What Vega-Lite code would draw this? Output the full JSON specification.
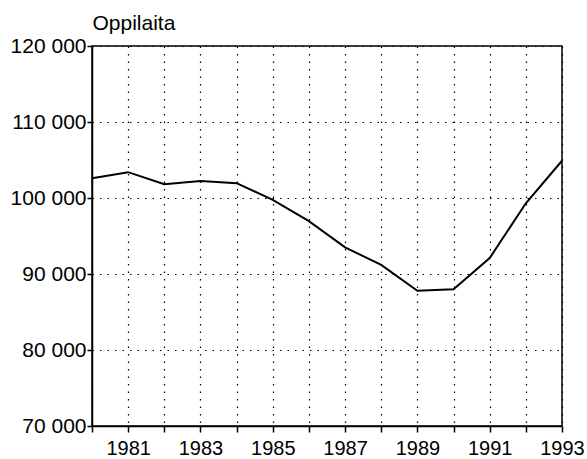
{
  "$schema": "https://vega.github.io/schema/vega-lite/v6.json",
  "width": 470,
  "height": 380,
  "autosize": "none",
  "padding": {"left": 92, "top": 46, "right": 25, "bottom": 33},
  "background": "white",
  "config": {
    "view": {"stroke": "black", "strokeWidth": 1.5},
    "font": "Liberation Sans"
  },
  "data": {
    "values": [
      {"year": 1980, "oppilaita": 102600},
      {"year": 1981, "oppilaita": 103400},
      {"year": 1982, "oppilaita": 101800},
      {"year": 1983, "oppilaita": 102250},
      {"year": 1984, "oppilaita": 101950},
      {"year": 1985, "oppilaita": 99750},
      {"year": 1986, "oppilaita": 96950},
      {"year": 1987, "oppilaita": 93500},
      {"year": 1988, "oppilaita": 91200},
      {"year": 1989, "oppilaita": 87800},
      {"year": 1990, "oppilaita": 88000},
      {"year": 1991, "oppilaita": 92100},
      {"year": 1992, "oppilaita": 99300},
      {"year": 1993, "oppilaita": 104900}
    ]
  },
  "mark": {"type": "line", "color": "black", "strokeWidth": 2},
  "encoding": {
    "x": {
      "field": "year",
      "type": "quantitative",
      "scale": {"domain": [1980, 1993], "nice": false, "zero": false},
      "axis": {
        "title": null,
        "values": [1980, 1981, 1982, 1983, 1984, 1985, 1986, 1987, 1988, 1989, 1990, 1991, 1992, 1993],
        "labelExpr": "datum.value % 2 == 1 ? datum.value : ''",
        "labelFontSize": 20,
        "labelColor": "black",
        "labelPadding": 6,
        "labelFlush": false,
        "labelOverlap": false,
        "domainColor": "black",
        "domainWidth": 1.5,
        "tickColor": "black",
        "tickSize": 6,
        "tickWidth": 1.5,
        "grid": true,
        "gridColor": "black",
        "gridDash": [1.5, 6],
        "gridWidth": 1.2
      }
    },
    "y": {
      "field": "oppilaita",
      "type": "quantitative",
      "scale": {"domain": [70000, 120000], "nice": false, "zero": false},
      "axis": {
        "title": "Oppilaita",
        "titleAngle": 0,
        "titleAlign": "left",
        "titleBaseline": "alphabetic",
        "titleX": 0,
        "titleY": -17,
        "titleFontSize": 21,
        "titleFontWeight": "normal",
        "titleColor": "black",
        "values": [70000, 80000, 90000, 100000, 110000, 120000],
        "labelExpr": "replace(format(datum.value, ','), ',', ' ')",
        "labelFontSize": 21,
        "labelColor": "black",
        "labelPadding": 1,
        "labelFlush": false,
        "domainColor": "black",
        "domainWidth": 1.5,
        "tickColor": "black",
        "tickSize": 5,
        "tickWidth": 1.5,
        "grid": true,
        "gridColor": "black",
        "gridDash": [1.5, 6],
        "gridWidth": 1.2
      }
    }
  }
}
